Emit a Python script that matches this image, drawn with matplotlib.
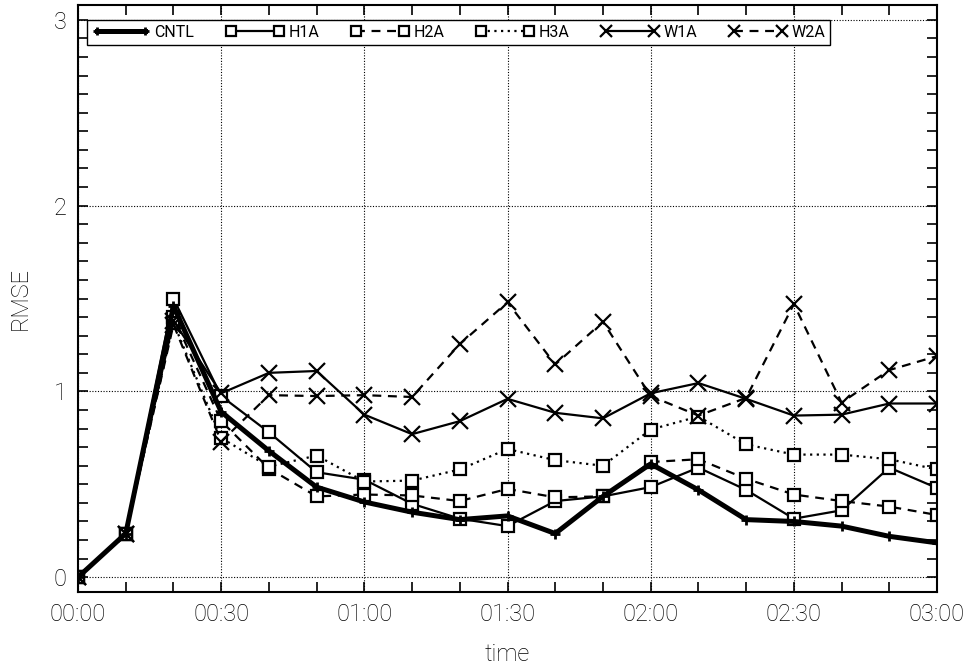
import numpy as np
import matplotlib
matplotlib.use("Agg")
import matplotlib.pyplot as plt
from matplotlib.ticker import MultipleLocator, FuncFormatter

plt.rcParams['font.family'] = ['Roboto', 'DejaVu Sans']
plt.rcParams['font.weight'] = 'light'
plt.rcParams['axes.labelweight'] = 'light'

# forecast time in minutes, every 10 min
minutes = np.arange(0, 190, 10)

cntl = [0.0, 0.235, 1.46, 0.89, 0.68, 0.485, 0.405, 0.35, 0.31, 0.33,
        0.235, 0.435, 0.61, 0.47, 0.31, 0.30, 0.275, 0.22, 0.185]
h1a = [0.0, 0.235, 1.50, 0.975, 0.78, 0.565, 0.525, 0.395, 0.315, 0.275,
       0.41, 0.435, 0.485, 0.59, 0.47, 0.315, 0.36, 0.59, 0.48]
h2a = [0.0, 0.235, 1.40, 0.84, 0.585, 0.435, 0.445, 0.44, 0.41, 0.475,
       0.43, 0.435, 0.62, 0.635, 0.53, 0.445, 0.41, 0.38, 0.335]
h3a = [0.0, 0.235, 1.37, 0.75, 0.595, 0.655, 0.515, 0.52, 0.58, 0.69,
       0.63, 0.60, 0.795, 0.865, 0.715, 0.66, 0.66, 0.635, 0.58]
w1a = [0.0, 0.235, 1.38, 0.99, 1.10, 1.11, 0.875, 0.77, 0.84, 0.96,
       0.885, 0.855, 0.99, 1.045, 0.96, 0.87, 0.875, 0.935, 0.935]
w2a = [0.0, 0.235, 1.36, 0.73, 0.98, 0.975, 0.98, 0.97, 1.255, 1.48,
       1.145, 1.375, 0.975, 0.87, 0.965, 1.47, 0.94, 1.115, 1.19]

dashed = (0, (4, 3))
dotted = (0, (1, 2))
sq = dict(marker='s', markersize=9, markeredgewidth=1.6,
          markerfacecolor='white', markeredgecolor='black')
xx = dict(marker='x', markersize=11, markeredgewidth=1.6, color='black')

fig = plt.figure(figsize=(9.73, 6.66), dpi=100)
ax = fig.add_axes([0.0802, 0.111, 0.8828, 0.8815])

l_cntl, = ax.plot(minutes, cntl, color='black', lw=3.6, marker='+',
                  markersize=7, markeredgewidth=2, zorder=5, label='CNTL')
l_h1a, = ax.plot(minutes, h1a, color='black', lw=1.6, ls='-', label='H1A', **sq)
l_h2a, = ax.plot(minutes, h2a, color='black', lw=1.6, ls=dashed, label='H2A', **sq)
l_h3a, = ax.plot(minutes, h3a, color='black', lw=1.6, ls=dotted, label='H3A', **sq)
l_w1a, = ax.plot(minutes, w1a, lw=1.6, ls='-', label='W1A', **xx)
l_w2a, = ax.plot(minutes, w2a, lw=1.6, ls=dashed, label='W2A', **xx)

ax.set_xlim(0, 180)
ax.set_ylim(-0.08, 3.08)

ax.xaxis.set_major_locator(MultipleLocator(30))
ax.xaxis.set_minor_locator(MultipleLocator(10))
ax.yaxis.set_major_locator(MultipleLocator(1))
ax.yaxis.set_minor_locator(MultipleLocator(0.1))
ax.xaxis.set_major_formatter(FuncFormatter(lambda v, p: '%02d:%02d' % (v // 60, v % 60)))
ax.yaxis.set_major_formatter(FuncFormatter(lambda v, p: '%d' % v))

ax.tick_params(which='both', direction='in', top=True, right=True,
               length=7, width=1.2, labelsize=17, pad=8)
ax.grid(True, which='major', color='black', lw=0.8, ls=(0, (1, 1.5)))
for s in ax.spines.values():
    s.set_linewidth(1.5)

ax.set_xlabel('time', fontsize=17, labelpad=12)
ax.set_ylabel('RMSE', fontsize=17, labelpad=16)

leg = ax.legend(handles=[l_cntl, l_h1a, l_h2a, l_h3a, l_w1a, l_w2a],
                ncol=6, numpoints=2, loc='upper left',
                bbox_to_anchor=(0.0105, 0.974),
                prop={'size': 11.5, 'weight': 'normal'},
                handlelength=3.6, handletextpad=0.3, columnspacing=2.0,
                markerscale=0.75, borderpad=0.3, borderaxespad=0,
                fancybox=False, framealpha=1, edgecolor='black')
leg.get_frame().set_linewidth(1.0)

fig.savefig('out.png', dpi=100)
